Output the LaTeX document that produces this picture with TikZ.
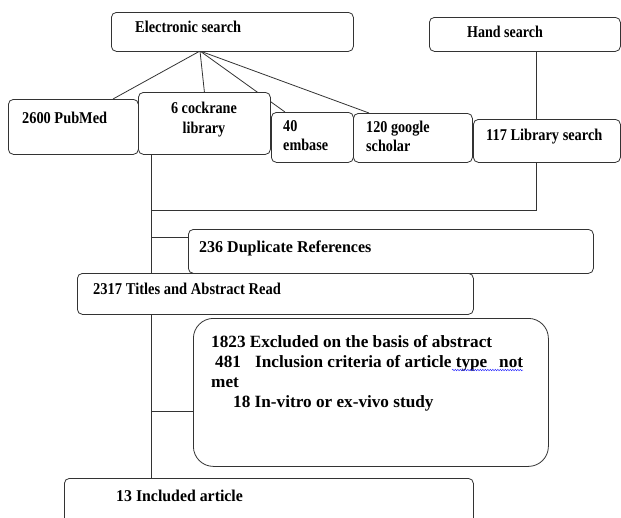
\documentclass[tikz,border=0pt]{standalone}
\usepackage{graphicx}
\usepackage{fontspec}
\setmainfont{Liberation Serif}
\usetikzlibrary{calc,backgrounds,decorations.pathmorphing}
\newcommand{\hsq}[2]{\scalebox{#1}[1]{#2}}
\begin{document}
\begin{tikzpicture}[x=1pt,y=-1pt,
  box/.style={draw=black!80, fill=white, line width=0.8pt, rounded corners=5pt, inner sep=0pt, anchor=north west},
  lbl/.style={font=\bfseries\fontsize{16.5}{18}\selectfont, inner sep=0pt, anchor=mid west, yshift=-3pt},
  clbl/.style={lbl, anchor=mid},
  xlbl/.style={font=\bfseries\fontsize{17.2}{20}\selectfont, inner sep=0pt, anchor=mid west, yshift=-3pt},
  link/.style={draw=black!80, line width=0.8pt}]
\useasboundingbox (0,0) rectangle (621,517);
\clip (0,0) rectangle (621,517);

% boxes
\node[box, minimum width=242pt, minimum height=39pt] (es) at (111,12) {};
\node[box, minimum width=191pt, minimum height=34pt] (hs) at (429,17) {};
\node[box, minimum width=130pt, minimum height=55pt] (pm) at (8,99) {};
\node[box, minimum width=132pt, minimum height=62pt] (cl) at (138,92) {};
\node[box, minimum width=82pt, minimum height=50pt] (em) at (271,112) {};
\node[box, minimum width=119pt, minimum height=49pt] (gs) at (353,113) {};
\node[box, minimum width=147pt, minimum height=43pt] (ls) at (473,119) {};
\node[box, minimum width=405pt, minimum height=44pt] (dup) at (188,229) {};
\node[box, minimum width=396pt, minimum height=41pt] (tar) at (77,273) {};
\node[box, rounded corners=20pt, minimum width=355pt, minimum height=148pt] (exc) at (193,318) {};
\node[box, minimum width=409pt, minimum height=60pt] (inc) at (64,478) {};

% texts
\node[lbl] (t-es) at (135,27) {\hsq{0.87}{Electronic search}};
\node[lbl] (t-hs) at (467,32) {\hsq{0.85}{Hand search}};
\node[lbl] (t-pm) at (22,118) {\hsq{0.87}{2600 PubMed}};
\node[clbl] (t-cl1) at (204,108) {\hsq{0.86}{6 cockrane}};
\node[clbl] (t-cl2) at (204,128) {\hsq{0.86}{library}};
\node[lbl] (t-em1) at (283,126) {\hsq{0.86}{40}};
\node[lbl] (t-em2) at (283,145) {\hsq{0.86}{embase}};
\node[lbl] (t-gs1) at (366,127) {\hsq{0.86}{120 google}};
\node[lbl] (t-gs2) at (366,146) {\hsq{0.86}{scholar}};
\node[lbl] (t-ls) at (486,135) {\hsq{0.87}{117 Library search}};
\node[lbl] (t-dup) at (199,247) {\hsq{0.97}{236 Duplicate References}};
\node[lbl] (t-tar) at (93,289) {\hsq{0.88}{2317 Titles and Abstract Read}};
\node[xlbl] (t-ex1) at (211,342) {1823 Excluded on the basis of abstract};
\node[xlbl] (t-ex2a) at (215,362) {481};
\node[xlbl] (t-ex2b) at (255,362) {Inclusion criteria of article type};
\node[xlbl] (t-ex2c) at (499,362) {not};
\node[xlbl] (t-ex3) at (211,382) {met};
\node[xlbl] (t-ex4) at (233,402) {18 In-vitro or ex-vivo study};
\node[lbl] (t-inc) at (116,496) {\hsq{0.96}{13 Included article}};

% spell-check underline
\coordinate (w1) at (452,370);
\coordinate (w2) at (523,370);
\draw[blue!80, line width=0.5pt, decorate, decoration={snake, amplitude=0.7pt, segment length=2.5pt}] (w1) -- (w2);

% connectors
\coordinate (esb) at (200,51);
\coordinate (vx) at (151,0);
\coordinate (hx) at (536,0);
\coordinate (j1) at (151,210);
\coordinate (j2) at (151,237);
\coordinate (j3) at (151,411);
\begin{scope}[on background layer]
\draw[link] (esb) -- ($(pm.north west)+(105,0)$);
\draw[link] (esb) -- (cl.north);
\draw[link] (esb) -- ($(em.north west)+(14,0)$);
\draw[link] (esb) -- ($(gs.north west)+(16,0)$);
\draw[link] (hs.south -| hx) -- (ls.north -| hx);
\draw[link] (ls.south -| hx) |- (j1);
\draw[link] (cl.south -| vx) -- (inc.north -| vx);
\draw[link] (j2) -- (dup.west |- j2);
\draw[link] (j3) -- (exc.west |- j3);
\end{scope}
\end{tikzpicture}
\end{document}
